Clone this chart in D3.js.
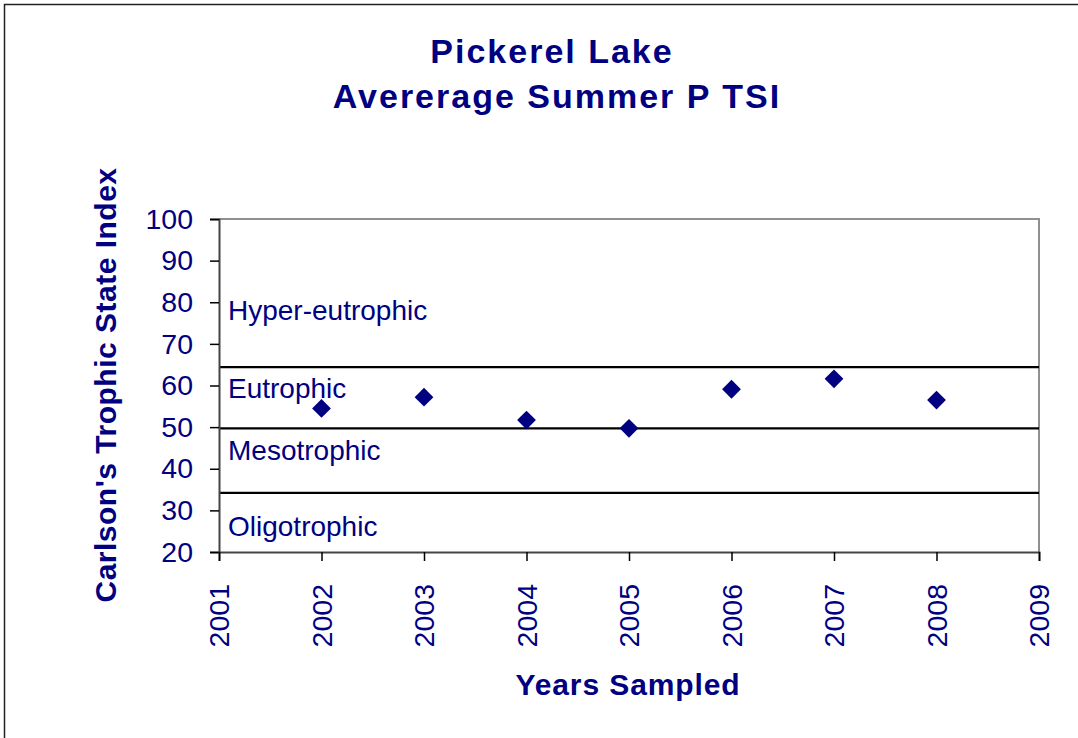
<!DOCTYPE html>
<html>
<head>
<meta charset="utf-8">
<script src="https://cdn.jsdelivr.net/npm/d3@7"></script>
<style>
    body { margin: 0; background: #fff; }
    svg { display: block; font-family: 'Liberation Sans', Arial, sans-serif; }
</style>
</head>
<body>
<svg id="chart" width="1078" height="738"></svg>
<script>
const years = [2002, 2003, 2004, 2005, 2006, 2007, 2008];
const tsiValues = [54.5, 57.2, 51.7, 49.7, 59.1, 61.6, 56.5];
const yearTicks = [2001, 2002, 2003, 2004, 2005, 2006, 2007, 2008, 2009];
const tsiTicks = [20, 30, 40, 50, 60, 70, 80, 90, 100];
const boundaries = [64.4, 49.7, 34.2];
const zoneNames = ['Hyper-eutrophic', 'Eutrophic', 'Mesotrophic', 'Oligotrophic'];
const zoneLabelValues = [75.7, 57, 42.2, 23.9];

const navy = '#000080';
const plot = { left: 219, right: 1039, top: 219, bottom: 552 };

const svg = d3.select('#chart');

// outer frame
svg.append('rect')
    .attr('x', 4.5).attr('y', 4.5)
    .attr('width', 1200).attr('height', 1000)
    .attr('fill', 'none')
    .attr('stroke', '#222')
    .attr('stroke-width', 1.5);

const x = d3.scaleLinear([2001, 2009], [plot.left, plot.right]);
const y = d3.scaleLinear([20, 100], [plot.bottom, plot.top]);

// plot border (top and right are grey)
svg.append('path')
    .attr('d', `M${plot.left},${plot.top}H${plot.right}V${plot.bottom}`)
    .attr('fill', 'none')
    .attr('stroke', '#909090')
    .attr('stroke-width', 2);

// trophic boundaries
svg.selectAll('.bound')
    .data(boundaries)
    .enter()
    .append('line')
    .attr('x1', plot.left).attr('x2', plot.right)
    .attr('y1', d => y(d)).attr('y2', d => y(d))
    .attr('stroke', '#000')
    .attr('stroke-width', 2.3);

// zone labels
svg.selectAll('.zone')
    .data(zoneNames)
    .enter()
    .append('text')
    .attr('x', plot.left + 9)
    .attr('y', (d, i) => y(zoneLabelValues[i]))
    .attr('fill', navy)
    .attr('font-size', 28)
    .text(d => d);

// y axis
const yAxis = d3.axisLeft(y).tickValues(tsiTicks).tickSize(9).tickPadding(17);
const gy = svg.append('g')
    .attr('transform', `translate(${plot.left},0)`)
    .call(yAxis);
gy.attr('font-size', null).attr('font-family', null);
gy.select('.domain').attr('stroke', '#444').attr('stroke-width', 2);
gy.selectAll('.tick line').attr('stroke', '#000').attr('stroke-width', 1.5);
gy.selectAll('.tick text')
    .attr('fill', navy)
    .style('font-size', '28.5px');

// x axis
const xAxis = d3.axisBottom(x).tickValues(yearTicks).tickFormat(d3.format('d')).tickSize(9);
const gx = svg.append('g')
    .attr('transform', `translate(0,${plot.bottom})`)
    .call(xAxis);
gx.attr('font-size', null).attr('font-family', null);
gx.select('.domain').attr('stroke', '#444').attr('stroke-width', 2);
gx.selectAll('.tick line').attr('stroke', '#000').attr('stroke-width', 1.5);
gx.selectAll('.tick text')
    .attr('fill', navy)
    .style('font-size', '28.5px')
    .attr('transform', 'rotate(-90)')
    .attr('text-anchor', 'end')
    .attr('x', -32)
    .attr('y', 0)
    .attr('dy', '0.35em');

// data points
svg.selectAll('.pt')
    .data(tsiValues)
    .enter()
    .append('path')
    .attr('d', d3.symbol(d3.symbolDiamond2, 225))
    .attr('transform', (d, i) => `translate(${x(years[i])},${y(d)})`)
    .attr('fill', navy);

// titles
const title = svg.append('text')
    .attr('text-anchor', 'middle')
    .attr('fill', navy)
    .attr('font-weight', 'bold')
    .attr('font-size', 34)
    .attr('letter-spacing', 2);
title.append('tspan').attr('x', 552).attr('y', 63).text('Pickerel Lake');
title.append('tspan').attr('x', 557).attr('y', 108).text('Avererage Summer P TSI');

svg.append('text')
    .attr('transform', 'translate(116,385) rotate(-90)')
    .attr('text-anchor', 'middle')
    .attr('fill', navy)
    .attr('font-weight', 'bold')
    .attr('font-size', 30)
    .attr('letter-spacing', 0.5)
    .text("Carlson's Trophic State Index");

svg.append('text')
    .attr('x', 628)
    .attr('y', 695)
    .attr('text-anchor', 'middle')
    .attr('fill', navy)
    .attr('font-weight', 'bold')
    .attr('font-size', 30)
    .attr('letter-spacing', 0.9)
    .text('Years Sampled');
</script>
</body>
</html>
